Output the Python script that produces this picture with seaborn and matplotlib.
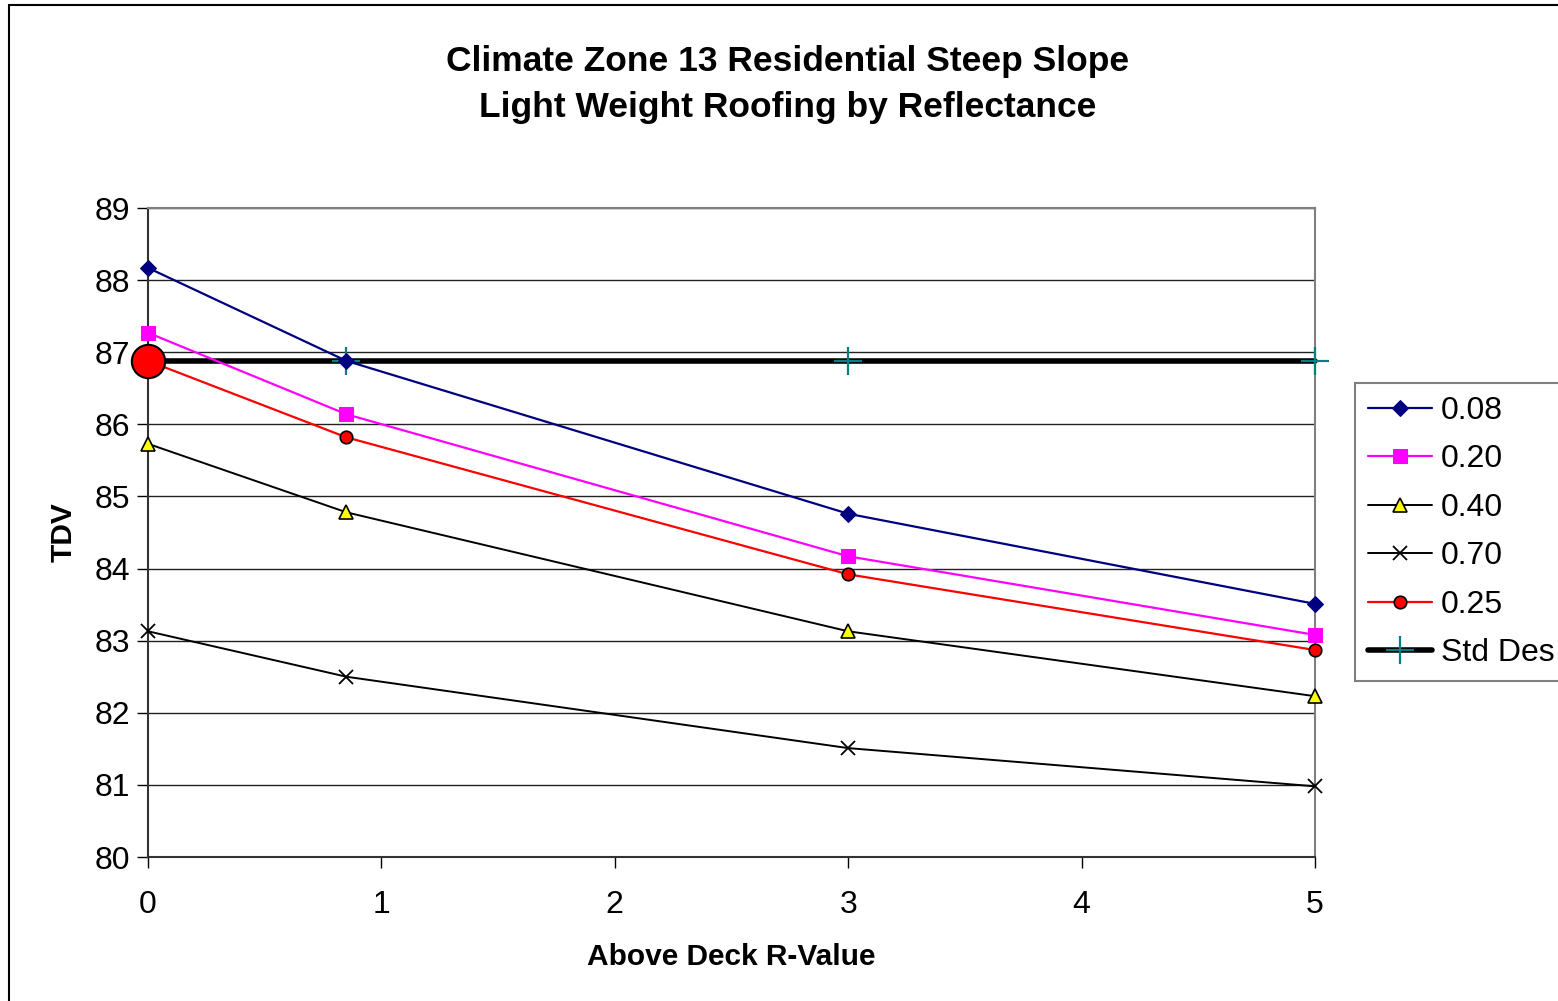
import numpy as np
import pandas as pd
import matplotlib
matplotlib.use("Agg")
import matplotlib.pyplot as plt
import seaborn as sns
from matplotlib.patches import Rectangle

# data
r_values = [0, 0.85, 3, 5]
tdv_008 = [88.17, 86.88, 84.76, 83.51]
tdv_020 = [87.27, 86.14, 84.17, 83.08]
tdv_040 = [85.73, 84.78, 83.13, 82.23]
tdv_070 = [83.13, 82.50, 81.51, 80.98]
tdv_025 = [86.88, 85.82, 83.92, 82.87]
std_des = [86.88, 86.88, 86.88, 86.88]

series_labels = ["0.08", "0.20", "0.40", "0.70", "0.25", "Std Des"]
x_ticks = [0, 1, 2, 3, 4, 5]
y_ticks = [80, 81, 82, 83, 84, 85, 86, 87, 88, 89]

sns.set_style("white")
plt.rcParams['font.family'] = ['Liberation Sans', 'DejaVu Sans']
plt.rcParams['text.color'] = 'black'
plt.rcParams['axes.labelcolor'] = 'black'

W, H = 1558, 1001
fig = plt.figure(figsize=(W / 100, H / 100), dpi=100)
ax = fig.add_axes([148 / W, 1 - 857 / H, (1315 - 148) / W, (857 - 208) / H])

# outer chart frame (runs past right/bottom edge like the source)
fig.patches.append(Rectangle((9 / W, -0.05), 1.2, 1 - 5 / H + 0.05,
                             transform=fig.transFigure, fill=False,
                             edgecolor='black', linewidth=1.5, zorder=0))

styles = {
    "0.08": dict(color='#000080', marker='D', markersize=8, markerfacecolor='#000080',
                 markeredgecolor='#000080', linewidth=1.6),
    "0.20": dict(color='#FF00FF', marker='s', markersize=10, markerfacecolor='#FF00FF',
                 markeredgecolor='#FF00FF', linewidth=1.6),
    "0.40": dict(color='black', marker='^', markersize=10, markerfacecolor='#FFFF00',
                 markeredgecolor='black', markeredgewidth=1.2, linewidth=1.4),
    "0.70": dict(color='black', marker='x', markersize=10, markeredgecolor='black',
                 markeredgewidth=1.3, linewidth=1.4),
    "0.25": dict(color='#FF0000', marker='o', markersize=9, markerfacecolor='#FF0000',
                 markeredgecolor='black', markeredgewidth=1.2, linewidth=1.6),
}
values = {"0.08": tdv_008, "0.20": tdv_020, "0.40": tdv_040,
          "0.70": tdv_070, "0.25": tdv_025}

# horizontal standard design line
sns.lineplot(x=r_values, y=std_des, ax=ax, color='black', linewidth=4,
             marker='+', markersize=20, markeredgecolor='#008080',
             markeredgewidth=1.6, markevery=[1, 2, 3], label="Std Des",
             sort=False, zorder=3, clip_on=False)

for lab in ["0.08", "0.20", "0.40", "0.70", "0.25"]:
    sns.lineplot(x=r_values, y=values[lab], ax=ax, label=lab, sort=False,
                 zorder=4, clip_on=False, **styles[lab])

# big red point at the start of the standard design line
ax.plot(r_values[0], std_des[0], marker='o', markersize=24, color='#FF0000',
        markeredgecolor='black', markeredgewidth=1.5, zorder=6, clip_on=False)

ax.set_xlim(0, 5)
ax.set_ylim(80, 89)
ax.set_xticks(x_ticks)
ax.set_yticks(y_ticks)
ax.tick_params(axis='both', labelsize=23, direction='out', length=8, width=1,
               colors='black', left=True, bottom=True)
ax.tick_params(axis='x', pad=16)
ax.tick_params(axis='y', pad=5)
ax.yaxis.grid(True, color='#222222', linewidth=1)
ax.xaxis.grid(False)
for side in ['top', 'right']:
    ax.spines[side].set_color('#808080')
    ax.spines[side].set_linewidth(1.5)
for side in ['left', 'bottom']:
    ax.spines[side].set_color('#333333')
    ax.spines[side].set_linewidth(1.5)

ax.set_xlabel("Above Deck R-Value", fontsize=21.5, fontweight='bold', labelpad=16)
ax.set_ylabel("TDV", fontsize=21.5, fontweight='bold', labelpad=12)

fig.text(788 / W, 1 - 61 / H, "Climate Zone 13 Residential Steep Slope",
         ha='center', va='center', fontsize=25.5, fontweight='bold')
fig.text(788 / W, 1 - 108 / H, "Light Weight Roofing by Reflectance",
         ha='center', va='center', fontsize=25.5, fontweight='bold')

handles, labels = ax.get_legend_handles_labels()
order = [labels.index(l) for l in series_labels]
leg = ax.legend([handles[i] for i in order], [labels[i] for i in order],
                loc='upper left', bbox_to_anchor=(1355 / W, 1 - 383 / H),
                bbox_transform=fig.transFigure, fontsize=23, frameon=True,
                fancybox=False, edgecolor='#808080', framealpha=1,
                handlelength=2.0, labelspacing=0.58, borderpad=0.4,
                handletextpad=0.3, borderaxespad=0)
leg.get_frame().set_linewidth(1.5)

fig.savefig("out.png", dpi=100)
